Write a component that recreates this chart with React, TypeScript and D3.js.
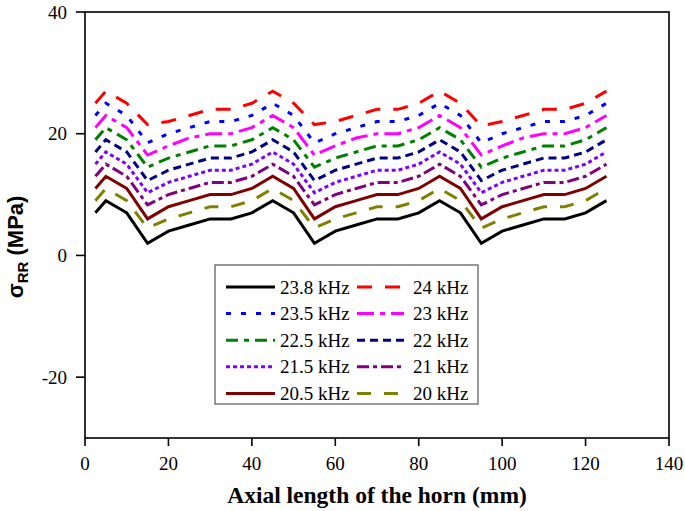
import React from "react";
import * as d3 from "d3";

const xs = [2.5, 5, 10, 15, 20, 25, 30, 35, 40, 45, 50, 55, 60, 65, 70, 75, 80, 85, 90, 95, 100, 105, 110, 115, 120, 125];

const s238 = [7, 9, 7, 2, 4, 5, 6, 6, 7, 9, 7, 2, 4, 5, 6, 6, 7, 9, 7, 2, 4, 5, 6, 6, 7, 9];
const s24 = [25, 27, 25, 21.5, 22, 23, 24, 24, 25, 27, 25, 21.5, 22, 23, 24, 24, 25, 27, 25, 21.3, 22, 23, 24, 24, 25, 27];
const s235 = [23, 25, 23, 18.5, 20, 21, 22, 22, 23, 25, 23, 18.5, 20, 21, 22, 22, 23, 25, 23, 18.5, 20, 21, 22, 22, 23, 25];
const s23 = [21, 23, 21, 16.5, 18, 19.3, 20, 20, 21, 23, 21, 16.5, 18, 19.3, 20, 20, 21, 23, 21, 16.5, 18, 19.3, 20, 20, 21, 23];
const s225 = [19, 21, 19, 14.5, 16, 17, 18, 18, 19, 21, 19, 14.5, 16, 17, 18, 18, 19, 21, 19, 14.5, 16, 17, 18, 18, 19, 21];
const s22 = [17, 19, 17, 12.3, 14, 15, 16, 16, 17, 19, 17, 12.3, 14, 15, 16, 16, 17, 19, 17, 12.3, 14, 15, 16, 16, 17, 19];
const s215 = [15, 17, 15, 10.3, 12, 13, 14, 14, 15, 17, 15, 10.3, 12, 13, 14, 14, 15, 17, 15, 10.3, 12, 13, 14, 14, 15, 17];
const s21 = [13, 15, 13, 8.3, 10, 11, 12, 12, 13, 15, 13, 8.3, 10, 11, 12, 12, 13, 15, 13, 8.3, 10, 11, 12, 12, 13, 15];
const s205 = [11, 13, 11, 6, 8, 9, 10, 10, 11, 13, 11, 6, 8, 9, 10, 10, 11, 13, 11, 6, 8, 9, 10, 10, 11, 13];
const s20 = [9, 11, 9, 4.5, 6, 7, 8, 8, 9, 11, 9, 4.5, 6, 7, 8, 8, 9, 11, 9, 4.5, 6, 7, 8, 8, 9, 11];

const xTicks = [0, 20, 40, 60, 80, 100, 120, 140];
const yTicks = [-20, 0, 20, 40];

const series = [
  { label: "23.8 kHz", values: s238, color: "#000000", dash: "" },
  { label: "24 kHz", values: s24, color: "#FF0000", dash: "15,13" },
  { label: "23.5 kHz", values: s235, color: "#0000FF", dash: "5,10" },
  { label: "23 kHz", values: s23, color: "#FF00FF", dash: "17,6,5,6" },
  { label: "22.5 kHz", values: s225, color: "#008000", dash: "12,6,5,6" },
  { label: "22 kHz", values: s22, color: "#000080", dash: "8,5" },
  { label: "21.5 kHz", values: s215, color: "#8000FF", dash: "4,3" },
  { label: "21 kHz", values: s21, color: "#800080", dash: "12,4,4,4" },
  { label: "20.5 kHz", values: s205, color: "#800000", dash: "" },
  { label: "20 kHz", values: s20, color: "#808000", dash: "14,13" },
];

const W = 685;
const H = 511;
const L = 85, R = 669, T = 12, B = 438;

export default function App() {
  const x = d3.scaleLinear().domain([0, 140]).range([L, R]);
  const y = d3.scaleLinear().domain([-30, 40]).range([B, T]);
  const line = d3
    .line<number>()
    .x((_, i) => x(xs[i]))
    .y((d) => y(d));

  const serif = "'Liberation Serif', 'Times New Roman', serif";
  const sans = "'Liberation Sans', Arial, sans-serif";

  const legX = 215, legY = 265, legW = 263, legH = 139;
  const rowY0 = 287, rowDy = 26.6;

  return (
    <svg width={W} height={H} style={{ position: "absolute", left: 0, top: 0, background: "#fff" }}>
      <rect x={0} y={0} width={W} height={H} fill="#fff" />
      {series.map((s) => (
        <path
          key={s.label}
          d={line(s.values) || ""}
          fill="none"
          stroke={s.color}
          strokeWidth={3}
          strokeDasharray={s.dash || undefined}
          strokeLinejoin="miter"
        />
      ))}
      <rect x={L} y={T} width={R - L} height={B - T} fill="none" stroke="#000" strokeWidth={1.6} />
      {yTicks.map((t) => (
        <g key={"y" + t}>
          <line x1={L - 9} x2={L} y1={y(t)} y2={y(t)} stroke="#000" strokeWidth={1.6} />
          <text x={L - 18} y={y(t)} dy="0.35em" textAnchor="end" fontFamily={serif} fontSize={19}>
            {t}
          </text>
        </g>
      ))}
      {xTicks.map((t) => (
        <g key={"x" + t}>
          <line x1={x(t)} x2={x(t)} y1={B} y2={B + 8} stroke="#000" strokeWidth={1.6} />
          <text x={x(t)} y={470} textAnchor="middle" fontFamily={serif} fontSize={19}>
            {t}
          </text>
        </g>
      ))}
      <text x={(L + R) / 2} y={503} textAnchor="middle" fontFamily={serif} fontWeight="bold" fontSize={23.5}>
        Axial length of the horn (mm)
      </text>
      <text transform="translate(23,247) rotate(-90)" textAnchor="middle" fontFamily={sans} fontWeight="bold" fontSize={22}>
        <tspan>σ</tspan>
        <tspan fontSize={15} dy={5}>RR</tspan>
        <tspan dy={-5}> (MPa)</tspan>
      </text>
      <rect x={legX} y={legY} width={legW} height={legH} fill="#fff" stroke="#555" strokeWidth={1.2} />
      {series.map((s, i) => {
        const col = i % 2;
        const row = Math.floor(i / 2);
        const cy = rowY0 + row * rowDy;
        const x1 = col === 0 ? 226 : 357;
        const x2 = col === 0 ? 275 : 404;
        const tx = col === 0 ? 280 : 413;
        return (
          <g key={"leg" + s.label}>
            <line x1={x1} x2={x2} y1={cy} y2={cy} stroke={s.color} strokeWidth={3} strokeDasharray={s.dash || undefined} />
            <text x={tx} y={cy} dy="0.35em" fontFamily={serif} fontSize={19}>
              {s.label}
            </text>
          </g>
        );
      })}
    </svg>
  );
}
